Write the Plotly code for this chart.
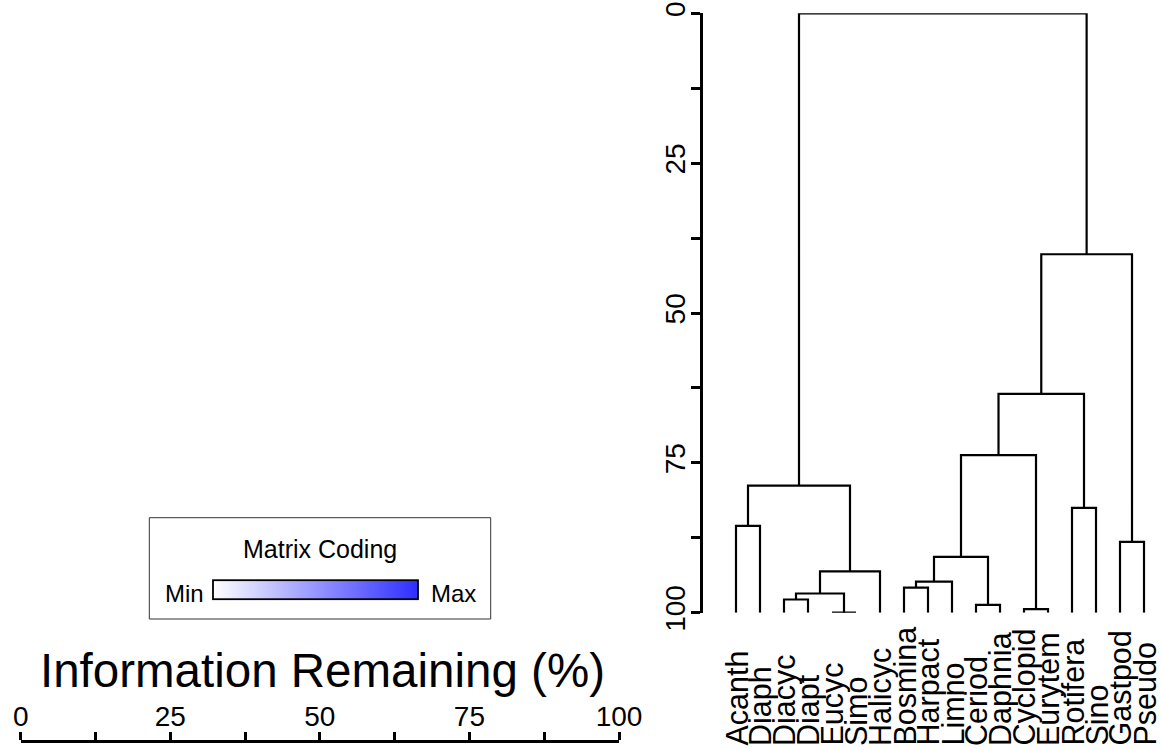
import plotly.graph_objects as go

# ---------------- data ----------------
leaves = ["Acanth", "Diaph", "Diacyc", "Diapt", "Eucyc", "Simo", "Halicyc",
          "Bosmina", "Harpact", "Limno", "Ceriod", "Daphnia", "Cyclopid",
          "Eurytem", "Rotifera", "Sino", "Gastpod", "Pseudo"]
# linkage: node ids 0..17 are leaves, merge k creates node 18+k
merge_left = [0, 2, 4, 19, 21, 18, 7, 24, 10, 25, 12, 27, 14, 29, 16, 31, 23]
merge_right = [1, 3, 5, 20, 6, 22, 8, 9, 11, 26, 13, 28, 15, 30, 17, 32, 33]
merge_height = [85.5, 97.8, 100.0, 96.8, 93.1, 78.8, 95.8, 94.8, 98.7, 90.7,
                99.4, 73.7, 82.5, 63.5, 88.2, 40.2, 0.0]
leaf_level = 100.0
y_ticks = [0, 25, 50, 75, 100]
x_ticks = [0, 25, 50, 75, 100]

# ---------------- geometry helpers ----------------
W, H = 1161, 750
FONT = "Liberation Sans, Arial, Helvetica, sans-serif"


def fx(p):
    return p / W


def fy(p):
    return 1 - p / H


# ---------------- dendrogram segments ----------------
pos = {i: float(i) for i in range(len(leaves))}
hgt = {i: leaf_level for i in range(len(leaves))}
xs, ys = [], []
for k, (a, b, h) in enumerate(zip(merge_left, merge_right, merge_height)):
    node = len(leaves) + k
    xs += [pos[a], pos[a], pos[b], pos[b], None]
    ys += [hgt[a], h, h, hgt[b], None]
    pos[node] = (pos[a] + pos[b]) / 2
    hgt[node] = h

fig = go.Figure()
fig.add_trace(go.Scatter(x=xs, y=ys, mode="lines", xaxis="x", yaxis="y",
                         line=dict(color="black", width=2.2),
                         cliponaxis=False, hoverinfo="skip", showlegend=False))

# colour-scale legend (matrix coding)
fig.add_trace(go.Scatter(
    x=[None], y=[None], mode="markers", xaxis="x2", yaxis="y2",
    showlegend=False, hoverinfo="skip",
    marker=dict(color=[0], cmin=0, cmax=1,
                colorscale=[[0, "#ffffff"], [1, "#2e2eff"]],
                showscale=True,
                colorbar=dict(orientation="h", x=fx(212.7), xanchor="left",
                              y=fy(600.5), yanchor="bottom",
                              len=204.6, lenmode="pixels",
                              thickness=19, thicknessmode="pixels",
                              xpad=0, ypad=0, outlinewidth=1.8,
                              outlinecolor="black", showticklabels=False,
                              ticks="", borderwidth=0))))

fig.update_layout(
    width=W, height=H, autosize=False,
    margin=dict(l=0, r=0, t=0, b=0, pad=0, autoexpand=False),
    paper_bgcolor="white", plot_bgcolor="white",
    font=dict(family=FONT, color="black"),
    showlegend=False,
    xaxis=dict(domain=[fx(703), 1], range=[-1.375, 17.708], visible=False,
               anchor="y", automargin=False),
    yaxis=dict(domain=[fy(612.7), fy(13.3)], range=[100, 0], anchor="x",
               automargin=False,
               showline=True, linewidth=3, linecolor="black",
               ticks="outside", ticklen=9, tickwidth=3, tickcolor="black",
               tickvals=y_ticks, tickangle=-90, ticklabelstandoff=-5,
               tickfont=dict(size=28, family=FONT),
               minor=dict(dtick=12.5, ticks="outside", ticklen=9,
                          tickwidth=3, tickcolor="black"),
               showgrid=False, zeroline=False),
    xaxis2=dict(domain=[fx(20.7), fx(619)], range=[0, 100], anchor="y2",
                automargin=False,
                side="top", showline=True, linewidth=3, linecolor="black",
                ticks="outside", ticklen=8, tickwidth=3, tickcolor="black",
                tickvals=x_ticks, tickfont=dict(size=28, family=FONT),
                ticklabelstandoff=-5,
                minor=dict(dtick=12.5, ticks="outside", ticklen=8,
                           tickwidth=3, tickcolor="black"),
                showgrid=False, zeroline=False),
    yaxis2=dict(domain=[0, fy(743)], range=[0, 1], anchor="x2",
                automargin=False, visible=False),
)

# axis title of the bottom-left axis
fig.add_annotation(x=fx(322.5), y=fy(670), xref="paper", yref="paper",
                   xanchor="center", yanchor="middle",
                   text="Information Remaining (%)", showarrow=False,
                   font=dict(size=47.5, family=FONT, color="black"))

# leaf labels (bottom aligned, rotated)
for i, name in enumerate(leaves):
    fig.add_annotation(x=i, xref="x", y=fy(748), yref="paper",
                       yanchor="bottom", xanchor="center", text=name,
                       textangle=-90, showarrow=False,
                       font=dict(size=30.5, family=FONT, color="black"))

# legend box
fig.add_shape(type="rect", xref="paper", yref="paper",
              x0=fx(149.3), x1=fx(490.7), y0=fy(619), y1=fy(517.7),
              line=dict(color="#333333", width=1), fillcolor="rgba(0,0,0,0)")
fig.add_annotation(x=fx(320), y=fy(549), xref="paper", yref="paper",
                   xanchor="center", yanchor="middle",
                   text="Matrix Coding", showarrow=False,
                   font=dict(size=25, family=FONT, color="black"))
fig.add_annotation(x=fx(184.3), y=fy(593), xref="paper", yref="paper",
                   xanchor="center", yanchor="middle",
                   text="Min", showarrow=False,
                   font=dict(size=24, family=FONT, color="black"))
fig.add_annotation(x=fx(453.3), y=fy(593), xref="paper", yref="paper",
                   xanchor="center", yanchor="middle",
                   text="Max", showarrow=False,
                   font=dict(size=24, family=FONT, color="black"))

post = ("document.body.style.margin='0';document.body.style.padding='0';"
        "document.documentElement.style.overflow='hidden';"
        "document.body.style.overflow='hidden';")
fig.write_html("out.html", post_script=post)
